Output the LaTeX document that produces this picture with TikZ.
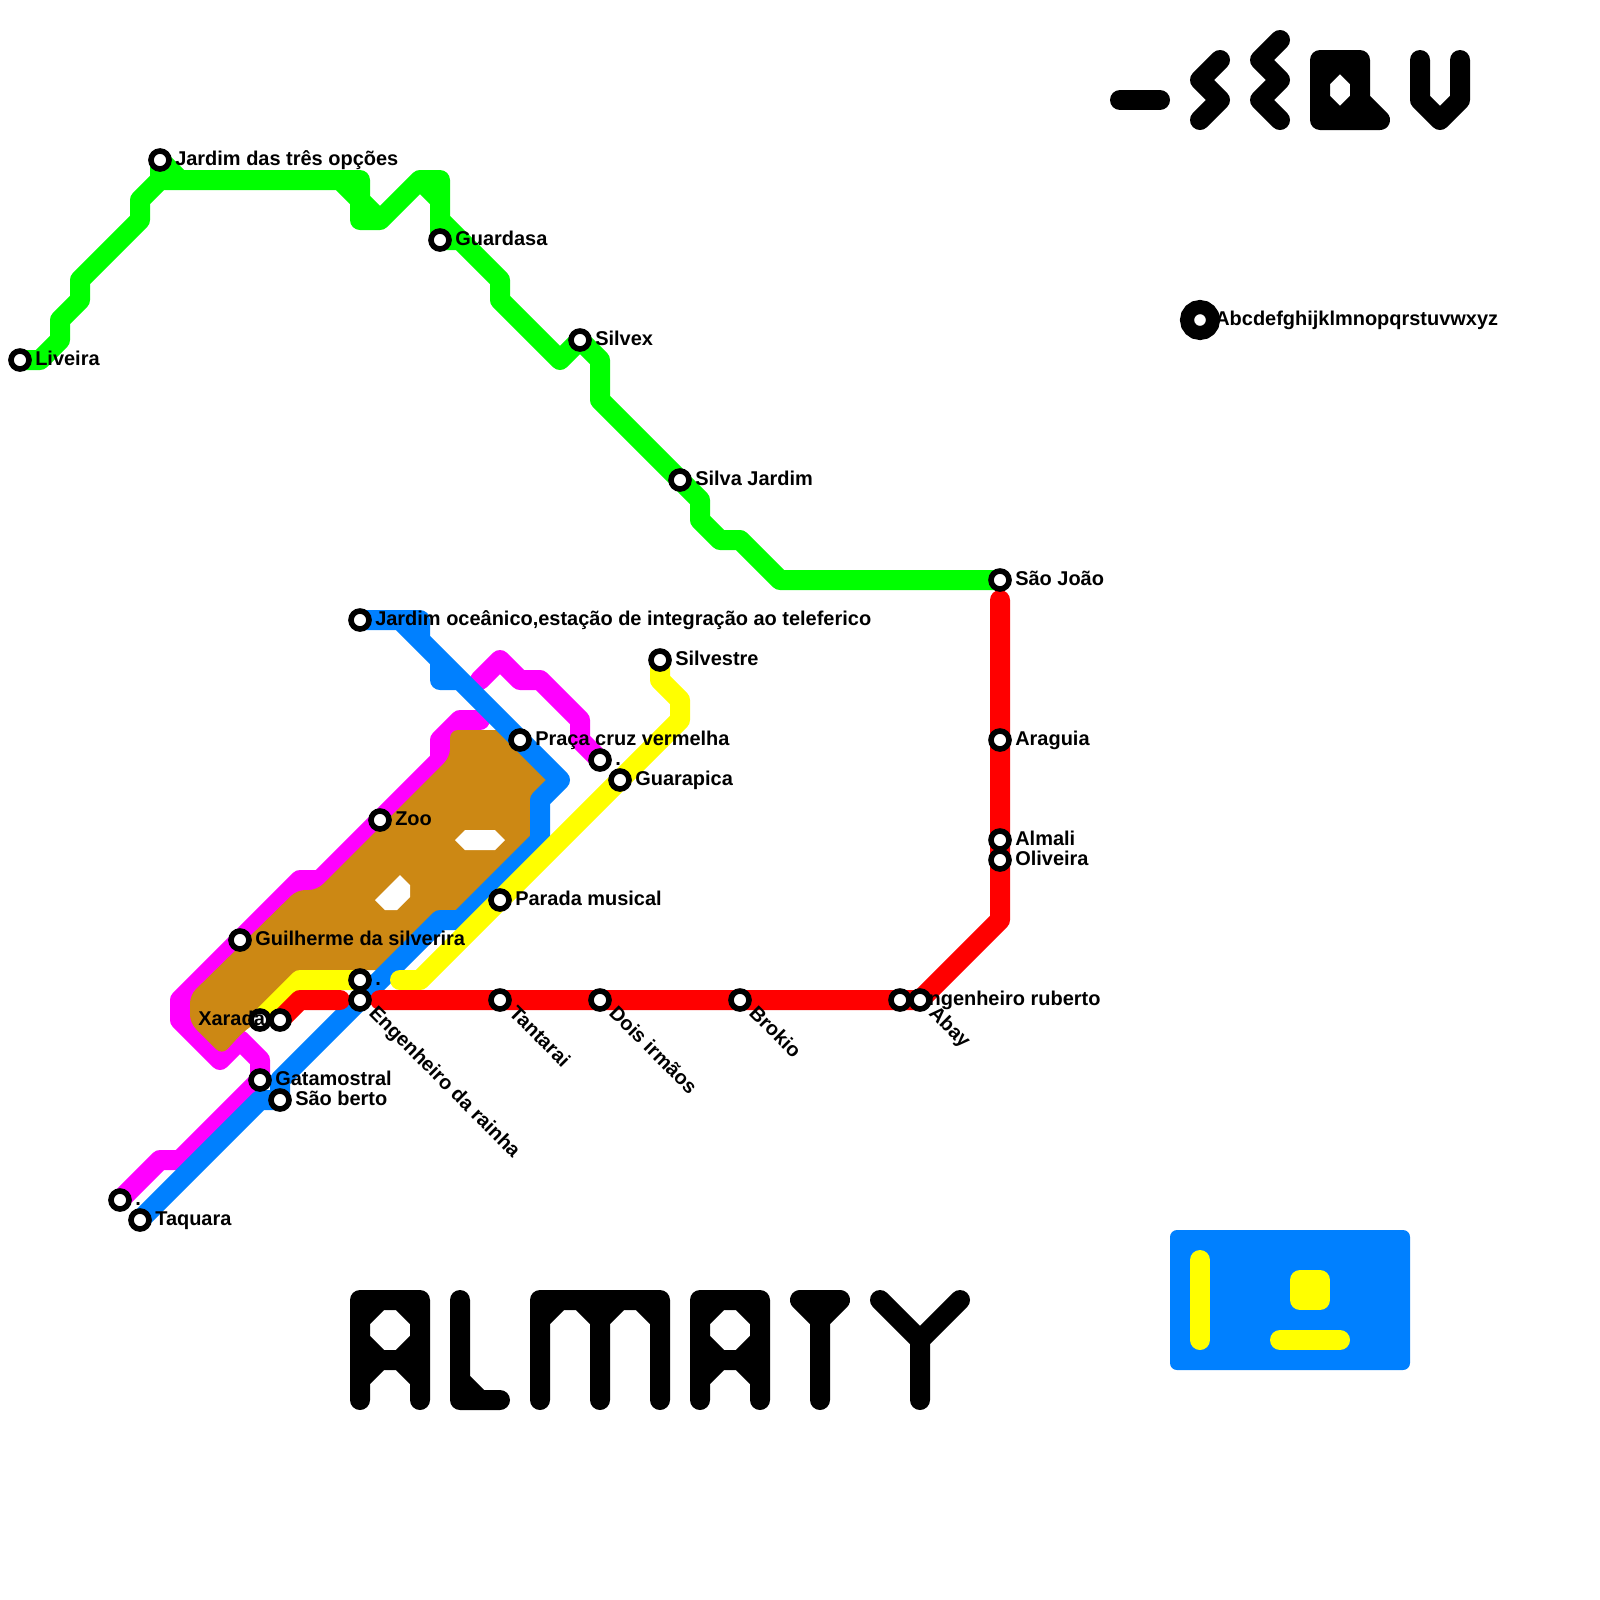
\documentclass[tikz,border=0pt]{standalone}
\usepackage{fontspec}
\usepackage{xcolor}
\setmainfont{Liberation Sans}
\usetikzlibrary{calc,backgrounds}
\definecolor{lgreen}{HTML}{00FF00}
\definecolor{lred}{HTML}{FF0000}
\definecolor{lmag}{HTML}{FF00FF}
\definecolor{lyel}{HTML}{FFFF00}
\definecolor{lblue}{HTML}{0080FF}
\definecolor{lbrown}{HTML}{CC8814}
\newcommand{\stopr}[4][stn]{\node[#1] (#2) at (#3) {};
  \node[lbl] (#2txt) at ($(#2)+(.75,.25)$) {#4};}
\newcommand{\stopd}[3]{\node[stn] (#1) at (#2) {};
  \node[lbl, rotate=-45] (#1txt) at ($(#1)+(.4,.7)$) {#3};}

\begin{document}
\begin{tikzpicture}[x=5mm, y=-5mm,
  stn/.style={circle, draw=black, fill=white, line width=1.4mm, minimum size=4.5mm, inner sep=0pt, outer sep=0pt},
  stnbig/.style={circle, draw=black, fill=white, line width=3.5mm, minimum size=6.5mm, inner sep=0pt, outer sep=0pt},
  lbl/.style={font=\bfseries\fontsize{14.2pt}{17pt}\selectfont, inner sep=0pt, anchor=base west},
  ln/.style={line width=5mm, line cap=round, line join=round},
  gl/.style={ln, draw=black},
  hole/.style={fill=white, draw=none}]
\useasboundingbox (0,0) rectangle (80,80);

% stations
\stopr{liveira}{1,18}{Liveira}
\stopr{jardimtres}{8,8}{Jardim das três opções}
\stopr{guardasa}{22,12}{Guardasa}
\stopr{silvex}{29,17}{Silvex}
\stopr{silvajardim}{34,24}{Silva Jardim}
\stopr{saojoao}{50,29}{São João}
\stopr{araguia}{50,37}{Araguia}
\stopr{almali}{50,42}{Almali}
\stopr{oliveira}{50,43}{Oliveira}
\stopr{ruberto}{45,50}{Engenheiro ruberto}
\stopd{abay}{46,50}{Abay}
\stopd{brokio}{37,50}{Brokio}
\stopd{dois}{30,50}{Dois irmãos}
\stopd{tantarai}{25,50}{Tantarai}
\stopd{rainha}{18,50}{Engenheiro da rainha}
\stopr{pontoa}{18,49}{.}
\node[stn] (xarada) at (13,51) {};
\node[lbl] (xaradatxt) at (9.9,51.25) {Xarada};
\node[stn] (xaradab) at (14,51) {};
\stopr{gatamostral}{13,54}{Gatamostral}
\stopr{berto}{14,55}{São berto}
\stopr{zoo}{19,41}{Zoo}
\stopr{guilherme}{12,47}{Guilherme da silverira}
\stopr{parada}{25,45}{Parada musical}
\stopr{guarapica}{31,39}{Guarapica}
\stopr{pontob}{30,38}{.}
\stopr{praca}{26,37}{Praça cruz vermelha}
\stopr{oceanico}{18,31}{Jardim oceânico,estação de integração ao teleferico}
\stopr{silvestre}{33,33}{Silvestre}
\stopr{pontoc}{6,60}{.}
\stopr{taquara}{7,61}{Taquara}
\stopr[stnbig]{legenda}{60,16}{Abcdefghijklmnopqrstuvwxyz}

\begin{scope}[on background layer]
% green
\draw[ln, lgreen] (liveira.center) -- (2,18) -- (3,17) -- (3,16) -- (4,15) -- (4,14) -- (7,11) -- (7,10) -- (8,9)
  -- (jardimtres.center) -- (9,9) -- (18,9) -- (18,11) -- (19,11) -- (21,9) -- (22,9) -- (guardasa.center) -- (23,12)
  -- (22,11) -- (25,14) -- (25,15) -- (28,18) -- (silvex.center) -- (30,18) -- (30,20) -- (silvajardim.center)
  -- (35,25) -- (35,26) -- (36,27) -- (37,27) -- (39,29) -- (saojoao.center)
  (8,9) -- (9,9) (17,9) -- (19,11) (21,9) -- (22,10);
% magenta
\draw[ln, lmag] (pontoc.center) -- (8,58) -- (9,58) -- (gatamostral.center) -- (13,53) -- (12,52) -- (11,53) -- (9,51)
  -- (9,50) -- (guilherme.center) -- (15,44) -- (16,44) -- (zoo.center) -- (22,38) -- (22,37) -- (23,36) -- (24,36);
\draw[ln, lmag] (24,34) -- (25,33) -- (26,34) -- (27,34) -- (29,36) -- (29,37) -- (pontob.center);
% area
\fill[lbrown, rounded corners=2mm] (22.5,36.5) -- (25.25,36.5) -- (27.75,39) -- (27,40) -- (27,42) -- (23,46) -- (22,46)
  -- (19.5,48.5) -- (15,48.5) -- (15,49) -- (13,51) -- (12.15,51.6) -- (11.1,52.75) -- (9.5,51.15) -- (9.5,49.75)
  -- (14.85,44.5) -- (15.85,44.5) -- (22.5,37.85) -- cycle;
\fill[hole] (22.75,42) -- (23.25,41.5) -- (24.75,41.5) -- (25.25,42) -- (24.75,42.5) -- (23.25,42.5) -- cycle;
\fill[hole] (18.75,45) -- (20,43.75) -- (20.5,44.25) -- (20.5,44.85) -- (19.85,45.5) -- (19.25,45.5) -- cycle;
% blue
\draw[ln, lblue] (oceanico.center) -- (21,31) -- (21,32) -- (22,33) -- (22,34) -- (23,34) -- (praca.center) -- (28,39) -- (27,40)
  -- (27,42) -- (23,46) -- (22,46) -- (rainha.center) -- (14,54) -- (berto.center) -- (13,55) -- (taquara.center)
  (20,31) -- (21,32) (22,33) -- (23,34);
% yellow
\draw[ln, lyel] (silvestre.center) -- (33,34) -- (34,35) -- (34,36) -- (guarapica.center) -- (parada.center) -- (21,49) -- (20,49);
\draw[ln, lyel] (pontoa.center) -- (15,49) -- (xarada.center);
% red
\draw[ln, lred] (saojoao.center) ++(0,1) -- (oliveira.center) -- (50,46) -- (abay.center) -- (ruberto.center) -- (brokio.center)
  -- (dois.center) -- (tantarai.center) -- (19,50);
\draw[ln, lred] (17,50) -- (15,50) -- (xaradab.center);
\end{scope}

% name top right
\draw[gl] (56,5) -- (58,5);
\draw[gl] (61,3) -- (60,4) -- (61,5) -- (60,6);
\draw[gl] (64,2) -- (63,3) -- (64,4) -- (63,5) -- (64,6);
\draw[gl] (66,3) -- (68,3) -- (68,5) -- (69,6) -- (66,6) -- cycle
  (66,4) -- (67,3) -- (68,4) (66,5) -- (67,6) -- (68,5);
\draw[gl] (71,3) -- (71,5) -- (72,6) -- (73,5) -- (73,3);

% name below
\foreach \ax in {18,35}
  \draw[gl, shift={(\ax,0)}] (0,70) -- (0,65) -- (3,65) -- (3,70)
    (0,66) -- (1,65) (2,65) -- (3,66)
    (0,67) -- (1,68) -- (2,68) -- (3,67)
    (0,69) -- (1,68) (2,68) -- (3,69);
\draw[gl] (23,65) -- (23,70) -- (25,70) (23,69) -- (24,70);
\draw[gl] (27,70) -- (27,65) -- (33,65) -- (33,70) (30,65) -- (30,70)
  (27,66) -- (28,65) (29,65) -- (30,66) -- (31,65) (32,65) -- (33,66);
\draw[gl] (40,65) -- (42,65) -- (41,66) -- cycle (41,66) -- (41,70);
\draw[gl] (44,65) -- (46,67) -- (48,65) (46,67) -- (46,70);

% card
\fill[lblue, rounded corners=1.75mm] (58.5,61.5) rectangle (70.5,68.5);
\draw[ln, lyel] (60,63) -- (60,67);
\draw[ln, lyel, fill=lyel] (65,64) -- (66,64) -- (66,65) -- (65,65) -- cycle;
\draw[ln, lyel] (64,67) -- (67,67);
\end{tikzpicture}
\end{document}
